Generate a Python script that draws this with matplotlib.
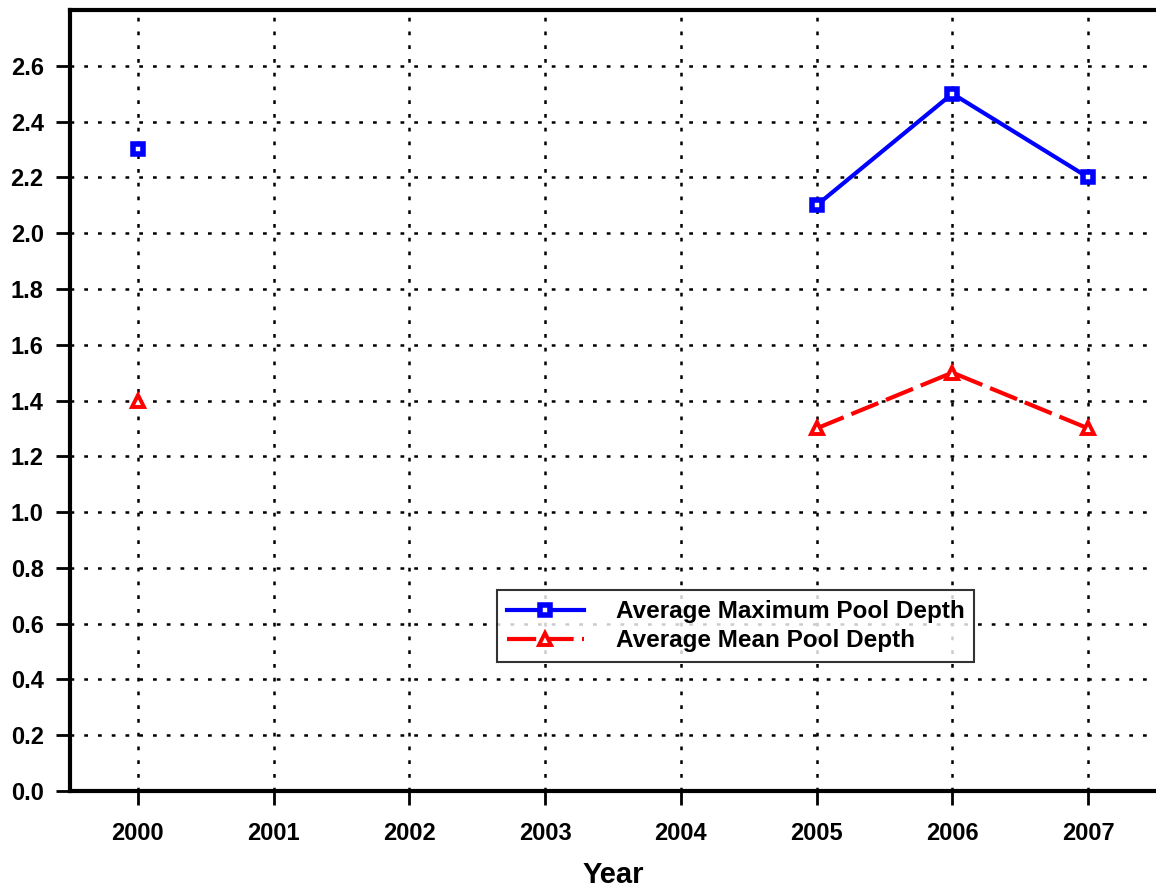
import numpy as np
import matplotlib
matplotlib.use("Agg")
import matplotlib.pyplot as plt

plt.rcParams["font.family"] = ["Liberation Sans", "DejaVu Sans"]
plt.rcParams["font.weight"] = "bold"

# Data (NaN = no survey that year)
years = [2000, 2001, 2002, 2003, 2004, 2005, 2006, 2007]
max_depth = [2.3, np.nan, np.nan, np.nan, np.nan, 2.1, 2.5, 2.2]
mean_depth = [1.4, np.nan, np.nan, np.nan, np.nan, 1.3, 1.5, 1.3]
y_ticks = [0.0, 0.2, 0.4, 0.6, 0.8, 1.0, 1.2, 1.4, 1.6, 1.8, 2.0, 2.2, 2.4, 2.6]

fig = plt.figure(figsize=(11.56, 8.9), dpi=100)
ax = fig.add_axes([0.0606, 0.1112, 0.9394, 0.8776])

ax.plot(years, max_depth, color="blue", linewidth=3, marker="s",
        markersize=6.5, markerfacecolor="white", markeredgecolor="blue",
        markeredgewidth=4, label="Average Maximum Pool Depth", zorder=3)
ax.plot(years, mean_depth, color="red", linewidth=3, linestyle=(0, (7, 2)),
        marker="^", markersize=8, markerfacecolor="white", markeredgecolor="red",
        markeredgewidth=2.8, label="Average Mean Pool Depth", zorder=3)

ax.set_xlim(1999.5, 2007.5)
ax.set_ylim(0, 2.8)
ax.set_xticks(years)
ax.set_xticklabels([str(y) for y in years])
ax.set_yticks(y_ticks)
ax.set_yticklabels([f"{v:.1f}" for v in y_ticks])
ax.tick_params(axis="both", labelsize=17, width=2, length=10, pad=9)
ax.tick_params(axis="x", pad=12)

ax.grid(True, color="black", linestyle=(0, (1.5, 4)), linewidth=1.8)
ax.set_axisbelow(True)

for side in ("left", "bottom", "top"):
    ax.spines[side].set_linewidth(3)
ax.spines["right"].set_visible(False)

ax.set_xlabel("Year", fontsize=21, fontweight="bold", labelpad=12)

leg = ax.legend(loc="upper left", bbox_to_anchor=(0.393, 0.257),
                borderaxespad=0, fontsize=17.5, frameon=True, fancybox=False,
                handlelength=3.2, handletextpad=1.3, borderpad=0.4,
                labelspacing=0.25)
leg.get_frame().set_edgecolor("black")
leg.get_frame().set_linewidth(1.5)

fig.savefig("out.png", dpi=100)
